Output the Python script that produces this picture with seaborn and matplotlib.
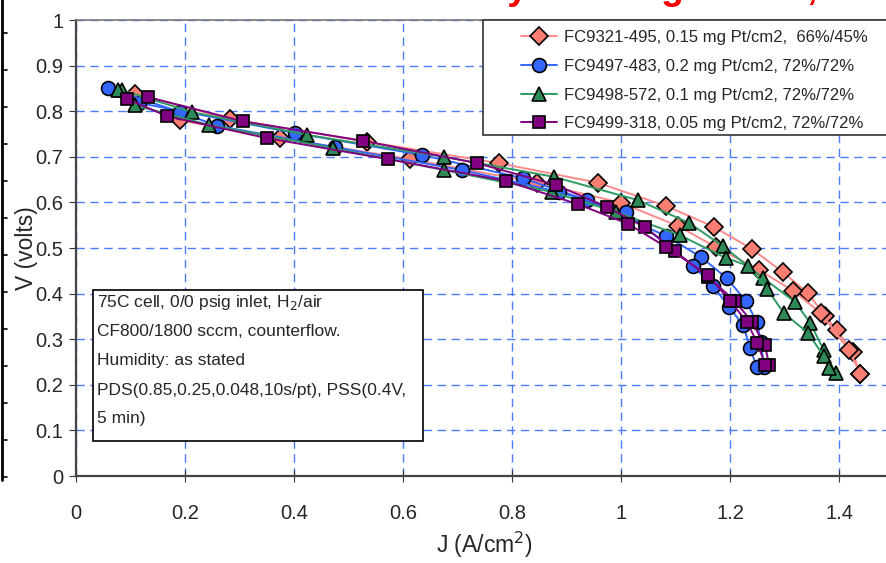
import numpy as np
import pandas as pd
import matplotlib
matplotlib.use("Agg")
import matplotlib.pyplot as plt
from matplotlib.lines import Line2D
from matplotlib.patches import Rectangle
import seaborn as sns

# ---- data (two sweeps per cell) ----
fc9321_j_a = [0.108, 0.283, 0.534, 0.776, 0.958, 1.083, 1.171, 1.240, 1.297, 1.343, 1.375, 1.396, 1.425, 1.439]
fc9321_v_a = [0.838, 0.783, 0.733, 0.686, 0.643, 0.592, 0.546, 0.498, 0.447, 0.401, 0.350, 0.320, 0.272, 0.224]
fc9321_j_b = [0.190, 0.374, 0.613, 0.846, 1.000, 1.105, 1.174, 1.253, 1.316, 1.367, 1.418, 1.439]
fc9321_v_b = [0.780, 0.741, 0.695, 0.643, 0.599, 0.548, 0.502, 0.452, 0.406, 0.357, 0.276, 0.224]

fc9497_j_a = [0.116, 0.402, 0.635, 0.820, 0.938, 1.083, 1.147, 1.194, 1.229, 1.249, 1.257, 1.262]
fc9497_v_a = [0.818, 0.752, 0.704, 0.653, 0.605, 0.526, 0.480, 0.434, 0.384, 0.338, 0.294, 0.239]
fc9497_j_b = [0.059, 0.191, 0.259, 0.475, 0.708, 0.886, 1.009, 1.132, 1.169, 1.198, 1.224, 1.237, 1.249]
fc9497_v_b = [0.851, 0.798, 0.768, 0.721, 0.671, 0.623, 0.579, 0.461, 0.417, 0.371, 0.331, 0.281, 0.239]

fc9498_j_a = [0.084, 0.213, 0.424, 0.675, 0.877, 1.031, 1.125, 1.187, 1.261, 1.319, 1.347, 1.372, 1.394]
fc9498_v_a = [0.846, 0.798, 0.748, 0.700, 0.656, 0.605, 0.555, 0.504, 0.434, 0.382, 0.336, 0.276, 0.226]
fc9498_j_b = [0.077, 0.108, 0.244, 0.472, 0.675, 0.873, 0.991, 1.108, 1.193, 1.233, 1.268, 1.299, 1.343, 1.372, 1.382]
fc9498_v_b = [0.846, 0.813, 0.770, 0.719, 0.671, 0.623, 0.579, 0.528, 0.478, 0.461, 0.410, 0.357, 0.314, 0.263, 0.237]

fc9499_j_a = [0.132, 0.306, 0.527, 0.736, 0.881, 0.974, 1.044, 1.099, 1.160, 1.209, 1.240, 1.264, 1.272]
fc9499_v_a = [0.831, 0.778, 0.735, 0.686, 0.638, 0.590, 0.546, 0.493, 0.436, 0.384, 0.338, 0.287, 0.243]
fc9499_j_b = [0.094, 0.167, 0.350, 0.572, 0.789, 0.921, 1.013, 1.083, 1.160, 1.200, 1.231, 1.250, 1.265]
fc9499_v_b = [0.827, 0.789, 0.741, 0.695, 0.647, 0.596, 0.553, 0.502, 0.440, 0.384, 0.338, 0.292, 0.243]

labels = ["FC9321-495, 0.15 mg Pt/cm2,  66%/45%",
          "FC9497-483, 0.2 mg Pt/cm2, 72%/72%",
          "FC9498-572, 0.1 mg Pt/cm2, 72%/72%",
          "FC9499-318, 0.05 mg Pt/cm2, 72%/72%"]

series = [
    (fc9321_j_a, fc9321_v_a, fc9321_j_b, fc9321_v_b),
    (fc9497_j_a, fc9497_v_a, fc9497_j_b, fc9497_v_b),
    (fc9498_j_a, fc9498_v_a, fc9498_j_b, fc9498_v_b),
    (fc9499_j_a, fc9499_v_a, fc9499_j_b, fc9499_v_b),
]
line_colors = ["#FF8A8A", "#3366FF", "#2E9B62", "#800080"]
fill_colors = ["#FA7F72", "#3366FF", "#2E8B57", "#800080"]
markers = ["D", "o", "^", "s"]
msizes = [9, 10, 10, 9]

sns.set_style("white")
plt.rcParams['font.family'] = ['Liberation Sans', 'DejaVu Sans']

W, H = 886, 563
fig = plt.figure(figsize=(W / 100, H / 100), dpi=100)
ax = fig.add_axes([76 / W, 87 / H, 1.5 * 545 / W, 456 / H])

for (ja, va, jb, vb), lc, fc, mk, ms in zip(series, line_colors, fill_colors, markers, msizes):
    for jj, vv in ((ja, va), (jb, vb)):
        df = pd.DataFrame({"J": jj, "V": vv})
        sns.lineplot(data=df, x="J", y="V", ax=ax, sort=False, estimator=None,
                     color=lc, lw=1.4, marker=mk, markersize=ms,
                     markerfacecolor=fc, markeredgecolor="black", markeredgewidth=1.2)

ax.set_xlim(0, 1.5)
ax.set_ylim(0, 1)
ax.set_xticks(np.arange(0, 1.41, 0.2))
ax.set_xticklabels(["0", "0.2", "0.4", "0.6", "0.8", "1", "1.2", "1.4"])
ax.set_yticks(np.arange(0, 1.01, 0.1))
ax.set_yticklabels(["0", "0.1", "0.2", "0.3", "0.4", "0.5", "0.6", "0.7", "0.8", "0.9", "1"])
ax.grid(True, color="#4F7BFF", linestyle=(0, (6, 4)), linewidth=1)
ax.tick_params(axis="x", direction="inout", length=8, pad=16, labelsize=14.5, color="#333333", bottom=True)
ax.tick_params(axis="y", direction="out", length=5, pad=4, labelsize=14.5, color="#333333", left=True)
for s in ["left", "bottom"]:
    ax.spines[s].set_color("#444444")
    ax.spines[s].set_linewidth(1.6)
ax.spines["top"].set_color("#777777")
ax.spines["top"].set_linewidth(1.2)
ax.spines["right"].set_visible(False)
ax.set_xlabel("J (A/cm$^2$)", fontsize=16.5, labelpad=5)
ax.set_ylabel("V (volts)", fontsize=16.5, labelpad=-2)

# legend: frame drawn separately so the entries can sit further right
fig.add_artist(Rectangle((483 / W, 1 - 135 / H), 420 / W, 115 / H, transform=fig.transFigure,
                         facecolor="white", edgecolor="#333333", lw=1.2, zorder=4))
handles = [Line2D([], [], color=lc, lw=1.4, marker=mk, markersize=ms,
                  markerfacecolor=fc, markeredgecolor="black", markeredgewidth=1.2)
           for lc, fc, mk, ms in zip(line_colors, fill_colors, markers, msizes)]
leg = fig.legend(handles, labels, loc="upper left", bbox_to_anchor=(518 / W, 1 - 27 / H),
                 fontsize=12, frameon=False, handlelength=2.15,
                 labelspacing=0.82, borderpad=0.2, borderaxespad=0, handletextpad=0.4)
leg.set_zorder(5)

# conditions box
fig.add_artist(Rectangle((93 / W, 1 - 441 / H), 330 / W, 151 / H, transform=fig.transFigure,
                         facecolor="white", edgecolor="black", lw=1.2, zorder=5))
box_lines = ["75C cell, 0/0 psig inlet, H$_2$/air",
             "CF800/1800 sccm, counterflow.",
             "Humidity: as stated",
             "PDS(0.85,0.25,0.048,10s/pt), PSS(0.4V,",
             "5 min)"]
for i, t in enumerate(box_lines):
    fig.text(97 / W, 1 - (303 + 29 * i) / H, t, fontsize=12.5, va="center", ha="left", zorder=6)

# edge of the neighbouring frame on the left
fig.add_artist(Line2D([2 / W, 2 / W], [1, 1 - 480 / H], color="black", lw=2))
for k in range(13):
    yk = 1 - (33 + 37 * k) / H
    fig.add_artist(Line2D([2 / W, 7 / W], [yk, yk], color="black", lw=1.2))

# cut-off title at the top
fig.text(346 / W, 1 + 1 / H, "Pt Activity Loading Series, 75C", color="red", fontsize=27,
         fontweight="bold", ha="left", va="baseline")

fig.savefig("out.png", dpi=100)
